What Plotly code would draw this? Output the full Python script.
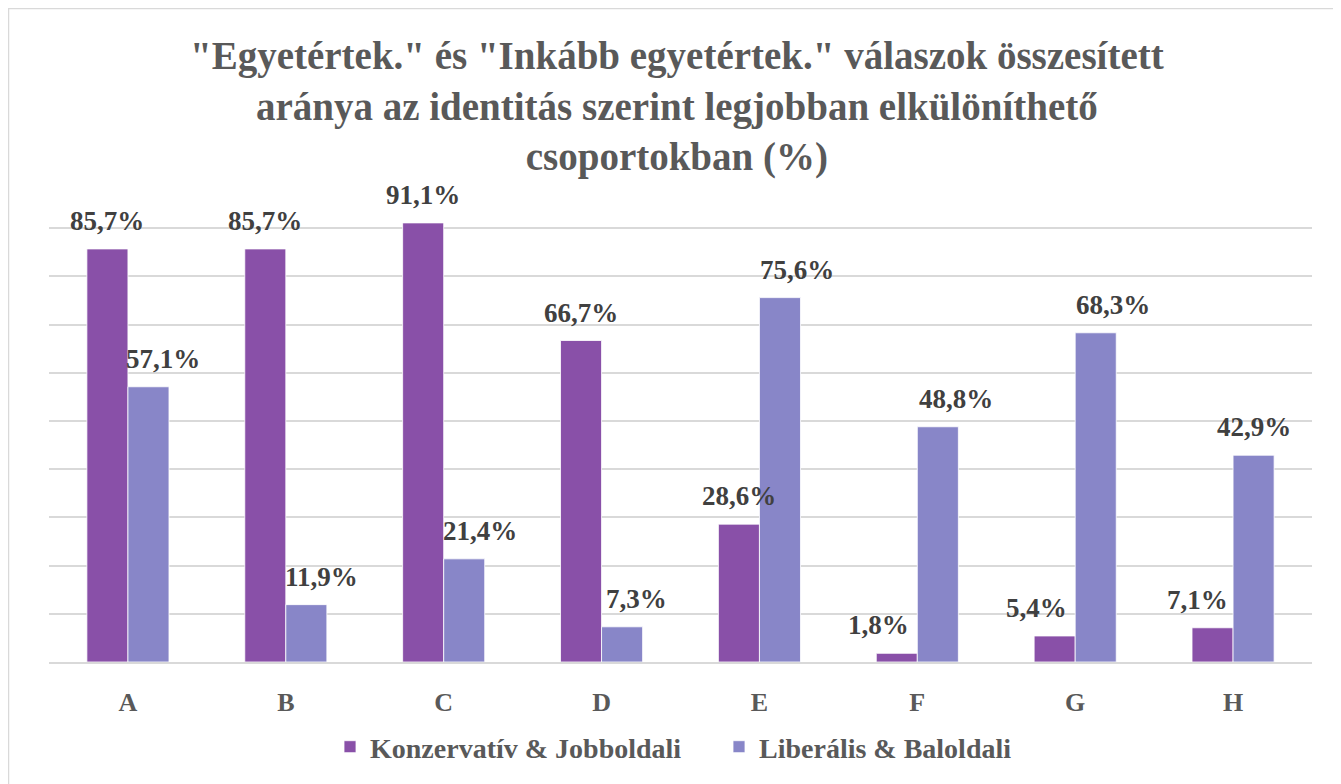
import plotly.graph_objects as go

categories = ["A", "B", "C", "D", "E", "F", "G", "H"]
konzervativ = [85.7, 85.7, 91.1, 66.7, 28.6, 1.8, 5.4, 7.1]
liberalis = [57.1, 11.9, 21.4, 7.3, 75.6, 48.8, 68.3, 42.9]
series_names = ["Konzervatív & Jobboldali", "Liberális & Baloldali"]
title_text = ('"Egyetértek." és "Inkább egyetértek." válaszok összesített<br>'
              'aránya az identitás szerint legjobban elkülöníthető<br>'
              'csoportokban (%)')

# label nudges (style only, px)
konz_nudge = [0, 0, 0, 0, 0, -18, -18, -15]
lib_nudge = [15, 15, 16, 14, 17, 18, 17, 0]

C1 = "#8950A8"
C2 = "#8886C8"
FONT = "Liberation Serif"

W, H = 1333, 776
ML, MR, MT = 41, 29, 172
PW = W - ML - MR
PH = 482
MB = H - MT - PH
BASE = MT + PH  # figure px of the baseline

def fmt(v):
    return f"{v:.1f}".replace(".", ",") + "%"

fig = go.Figure()
fig.add_trace(go.Bar(x=categories, y=konzervativ, name=series_names[0],
                     marker=dict(color=C1, line=dict(color="white", width=0.8))))
fig.add_trace(go.Bar(x=categories, y=liberalis, name=series_names[1],
                     marker=dict(color=C2, line=dict(color="white", width=0.8))))

bar_px = 41
annotations = []
for i, c in enumerate(categories):
    for vals, off, nud in ((konzervativ, -bar_px / 2, konz_nudge), (liberalis, bar_px / 2, lib_nudge)):
        annotations.append(dict(x=c, y=vals[i], xref="x", yref="y", text=fmt(vals[i]),
                                showarrow=False, xshift=off + nud[i], yshift=28,
                                yanchor="middle", xanchor="center",
                                font=dict(family=FONT, size=27, color="#404040", weight="bold")))

# chart title
annotations.append(dict(text=title_text, xref="paper", yref="paper",
                        x=(668.5 - ML) / PW, y=(BASE - 98) / PH,
                        xanchor="center", yanchor="middle", showarrow=False,
                        font=dict(family=FONT, size=39, color="#595959", weight="bold")))

fig.update_layout(
    width=W, height=H,
    margin=dict(l=ML, r=MR, t=MT, b=MB, autoexpand=False),
    paper_bgcolor="white", plot_bgcolor="white",
    barmode="group", bargap=0.48, bargroupgap=0,
    xaxis=dict(showgrid=False, showline=True, linecolor="#D9D9D9", linewidth=2,
               ticks="", tickfont=dict(family=FONT, size=26, color="#595959", weight="bold"),
               ticklabelstandoff=16),
    yaxis=dict(range=[0, 100], dtick=10, showticklabels=False, showgrid=True,
               gridcolor="#D9D9D9", gridwidth=1.5, zeroline=False, showline=False),
    legend=dict(orientation="h", x=711 / W, xanchor="center", xref="container",
                y=(H - 739) / H, yanchor="middle", yref="container",
                font=dict(family=FONT, size=28, color="#595959", weight="bold"),
                itemwidth=30, traceorder="normal", entrywidth=344, entrywidthmode="pixels"),
    annotations=annotations,
    shapes=[dict(type="rect", xref="paper", yref="paper",
                 x0=(0 - ML) / PW, x1=(W + 30 - ML) / PW,
                 y0=(BASE - H - 30) / PH, y1=(BASE - 0) / PH,
                 line=dict(color="#D9D9D9", width=2.5), fillcolor="rgba(0,0,0,0)", layer="below")],
)

fig.write_html("out.html")
